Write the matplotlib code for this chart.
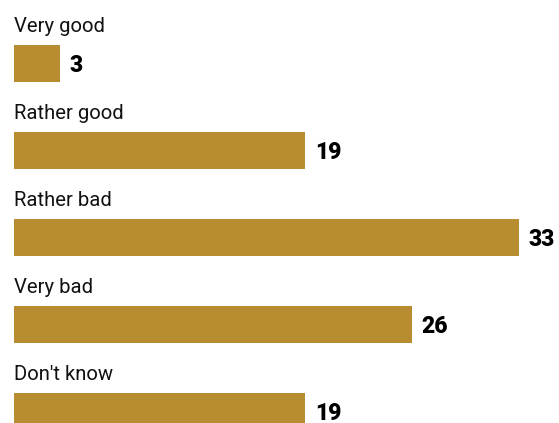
import matplotlib
matplotlib.use("Agg")
import matplotlib.pyplot as plt

categories = ["Very good", "Rather good", "Rather bad", "Very bad", "Don't know"]
values = [3, 19, 33, 26, 19]

W, H = 559, 423
fig = plt.figure(figsize=(W / 100, H / 100), dpi=100)
ax = fig.add_axes([0, 0, 1, 1])

px_per_unit = 15.3
x0 = 14
ax.set_xlim(-x0 / px_per_unit, (W - x0) / px_per_unit)
row = 87.0
c0 = 63.0
ax.set_ylim((H - c0) / row, -c0 / row)

color = "#B88C30"
ys = list(range(len(categories)))
ax.barh(ys, values, height=37 / row, color=color, left=0)

for i, (cat, v) in enumerate(zip(categories, values)):
    ax.text(0, i - 31 / row, cat, ha="left", va="baseline", fontsize=14.6,
            family="Roboto", color="#111111")
    ax.text(v + 10 / px_per_unit, i, str(v), ha="left", va="center_baseline",
            fontsize=16.5, fontweight="heavy", family="Roboto", color="#000000")

ax.axis("off")
fig.savefig("out.png", dpi=100)
